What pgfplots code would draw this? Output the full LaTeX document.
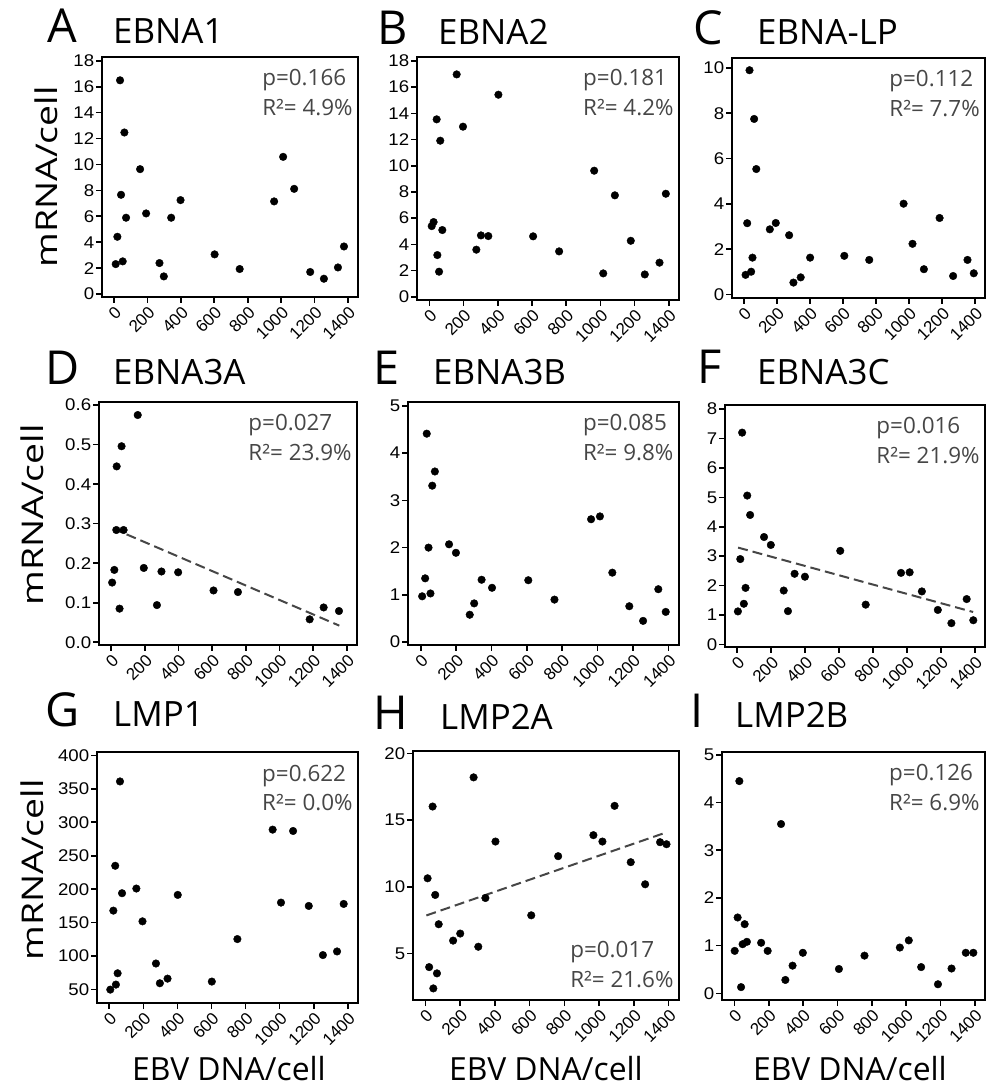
\documentclass[border=0pt]{standalone}
\usepackage{fontspec}
\setmainfont{Open Sans}
\newfontfamily\tickfont{Liberation Sans}
\usepackage{pgfplots}
\pgfplotsset{compat=1.18}
\definecolor{ptext}{RGB}{70,70,70}
\definecolor{trendc}{RGB}{70,70,70}
\pgfplotsset{
  panel/.style={
    scale only axis,
    anchor=south west,
    xmin=-72, xmax=1460,
    xtick={0,200,...,1400},
    tick align=outside,
    xtick pos=bottom, ytick pos=left,
    major tick length=6bp,
    every tick/.style={black, line width=1.6bp},
    axis line style={black, line width=2.2bp},
    tick label style={font=\tickfont\fontsize{17}{17}\selectfont},
    /pgf/number format/assume math mode=true,
    /pgf/number format/1000 sep={},
    xticklabel style={rotate=45, anchor=north east, inner sep=1.5bp},
    yticklabel style={inner sep=1.5bp, xscale=1.1},
    clip=false,
  },
  dots/.style={only marks, mark=*, mark size=3.8bp, black, mark options={fill=black, draw=black}},
  trend/.style={no marks, trendc, line width=2bp, dash pattern=on 10bp off 5bp},
}
\tikzset{
  ptxt/.style={font=\fontsize{22.5}{30}\selectfont, text=ptext, align=left, inner sep=0pt},
  letter/.style={font=\fontsize{47}{47}\selectfont, anchor=base west, inner sep=0pt},
  ttl/.style={font=\fontsize{35}{35}\selectfont, anchor=base west, inner sep=0pt},
  ylab/.style={font=\fontsize{30}{30}\selectfont, rotate=90, xscale=1.25, inner sep=0pt},
  xlab/.style={font=\fontsize{32}{32}\selectfont, anchor=base, inner sep=0pt},
}
\begin{document}
\begin{tikzpicture}
\useasboundingbox (0bp,0bp) rectangle (987bp,1087bp);

% ---------- Row 1 ----------
\begin{axis}[panel, at={(102bp,790bp)}, width=256bp, height=240bp,
  ymin=-0.23, ymax=18.3, ytick={0,2,...,18}]
\addplot[dots] coordinates {
(10,2.31) (20,4.42) (36,16.5) (42,7.66) (52,2.52) (62,12.47) (72,5.89)
(156,9.64) (192,6.22) (272,2.39) (298,1.36) (342,5.89) (398,7.25)
(602,3.06) (752,1.93) (958,7.15) (1012,10.59) (1078,8.12) (1174,1.70)
(1256,1.18) (1340,2.05) (1376,3.67)};
\node[ptxt, anchor=north east] at (rel axis cs:0.98,0.95) {p=0.166\\R²= 4.9\%};
\end{axis}

\begin{axis}[panel, at={(417bp,787bp)}, width=262bp, height=243bp,
  ymin=-0.25, ymax=18.3, ytick={0,2,...,18}]
\addplot[dots] coordinates {
(14,5.39) (25,5.70) (43,13.54) (47,3.18) (57,1.91) (64,11.91) (76,5.09)
(160,16.97) (197,12.98) (275,3.59) (302,4.68) (345,4.63) (404,15.42)
(607,4.61) (759,3.46) (964,9.62) (1017,1.78) (1085,7.74) (1178,4.27)
(1260,1.70) (1346,2.6) (1383,7.86)};
\node[ptxt, anchor=north east] at (rel axis cs:0.98,0.95) {p=0.181\\R²= 4.2\%};
\end{axis}

\begin{axis}[panel, at={(732bp,789bp)}, width=253bp, height=240bp,
  ymin=-0.15, ymax=10.44, ytick={0,2,...,10}]
\addplot[dots] coordinates {
(10,0.87) (20,3.15) (34,9.9) (44,1.01) (52,1.63) (62,7.75) (75,5.54)
(157,2.88) (193,3.16) (274,2.62) (300,0.53) (344,0.76) (401,1.63)
(608,1.71) (759,1.53) (967,4.01) (1021,2.24) (1090,1.12) (1185,3.38)
(1267,0.82) (1354,1.53) (1392,0.94)};
\node[ptxt, anchor=north east] at (rel axis cs:0.98,0.95) {p=0.112\\R²= 7.7\%};
\end{axis}

% ---------- Row 2 ----------
\begin{axis}[panel, at={(99bp,442bp)}, width=258bp, height=243bp,
  ymin=-0.007, ymax=0.608, ytick={0,0.1,0.2,0.3,0.4,0.5,0.6},
  yticklabel style={/pgf/number format/fixed, /pgf/number format/fixed zerofill, /pgf/number format/precision=1}]
\addplot[trend] coordinates {(10,0.288) (1355,0.042)};
\addplot[dots] coordinates {
(6,0.151) (19,0.183) (33,0.445) (31,0.284) (50,0.085) (62,0.496) (74,0.284)
(158,0.575) (194,0.188) (272,0.094) (299,0.179) (398,0.177)
(608,0.131) (753,0.127) (1179,0.058) (1262,0.088) (1353,0.079)};
\node[ptxt, anchor=north east] at (rel axis cs:0.98,0.95) {p=0.027\\R²= 23.9\%};
\end{axis}

\begin{axis}[panel, at={(408bp,442bp)}, width=271bp, height=243bp,
  ymin=-0.06, ymax=5.08, ytick={0,1,...,5}]
\addplot[dots] coordinates {
(8,0.97) (25,1.35) (34,4.41) (44,2.00) (55,1.03) (65,3.31) (80,3.61)
(160,2.07) (199,1.89) (277,0.58) (302,0.82) (344,1.32) (403,1.15)
(608,1.31) (756,0.90) (963,2.60) (1013,2.66) (1083,1.47) (1179,0.76)
(1257,0.45) (1343,1.12) (1385,0.64)};
\node[ptxt, anchor=north east] at (rel axis cs:0.98,0.95) {p=0.085\\R²= 9.8\%};
\end{axis}

\begin{axis}[panel, at={(725bp,440bp)}, width=260bp, height=242bp,
  ymin=-0.09, ymax=8.14, ytick={0,1,...,8}]
\addplot[trend] coordinates {(5,3.29) (1390,1.10)};
\addplot[dots] coordinates {
(4,1.12) (18,2.9) (29,7.2) (39,1.38) (49,1.92) (59,5.06) (76,4.40)
(158,3.65) (198,3.38) (274,1.83) (299,1.13) (338,2.40) (399,2.30)
(607,3.18) (757,1.35) (965,2.43) (1016,2.45) (1088,1.80) (1182,1.17)
(1262,0.72) (1352,1.54) (1391,0.82)};
\node[ptxt, anchor=north east] at (rel axis cs:0.98,0.95) {p=0.016\\R²= 21.9\%};
\end{axis}

% ---------- Row 3 ----------
\begin{axis}[panel, at={(97bp,84bp)}, width=261bp, height=251bp,
  ymin=30, ymax=405, ytick={50,100,...,400}]
\addplot[dots] coordinates {
(6,50) (24,168) (35,235) (39,57.5) (49,74.4) (63,361) (75,194)
(159,201) (195,152) (274,89) (297,59.5) (342,66.4) (402,191.5)
(602,62) (752,125.5) (959,289) (1008,180) (1079,287) (1171,175)
(1254,101.6) (1337,107) (1376,178)};
\node[ptxt, anchor=north east] at (rel axis cs:0.98,0.95) {p=0.622\\R²= 0.0\%};
\end{axis}

\begin{axis}[panel, at={(413bp,87bp)}, width=266bp, height=249bp,
  ymin=1.5, ymax=20.2, ytick={5,10,15,20}]
\addplot[trend] coordinates {(5,7.85) (1390,14.1)};
\addplot[dots] coordinates {
(12,10.64) (21,3.97) (41,16.03) (45,2.37) (56,9.39) (66,3.50) (76,7.19)
(159,5.96) (200,6.49) (277,18.22) (304,5.50) (345,9.16) (403,13.40)
(609,7.86) (764,12.30) (967,13.88) (1019,13.40) (1089,16.08) (1182,11.85)
(1265,10.19) (1351,13.35) (1388,13.2)};
\node[ptxt, anchor=south east] at (rel axis cs:0.98,0.05) {p=0.017\\R²= 21.6\%};
\end{axis}

\begin{axis}[panel, at={(722bp,87bp)}, width=263bp, height=248bp,
  ymin=-0.14, ymax=5.06, ytick={0,1,...,5}]
\addplot[dots] coordinates {
(2,0.89) (19,1.59) (29,4.45) (39,0.13) (48,1.03) (60,1.45) (73,1.08)
(156,1.06) (194,0.89) (272,3.55) (297,0.28) (339,0.58) (399,0.85)
(609,0.51) (758,0.79) (964,0.96) (1016,1.11) (1088,0.55) (1186,0.19)
(1265,0.52) (1348,0.85) (1392,0.85)};
\node[ptxt, anchor=north east] at (rel axis cs:0.98,0.95) {p=0.126\\R²= 6.9\%};
\end{axis}

% ---------- Letters and titles ----------
\node[letter] at (47bp,1044bp) {A};  \node[ttl] at (113bp,1043bp) {EBNA1};
\node[letter] at (377bp,1042bp) {B}; \node[ttl] at (438bp,1042bp) {EBNA2};
\node[letter] at (693bp,1042bp) {C}; \node[ttl] at (757bp,1042bp) {EBNA-LP};
\node[letter] at (45bp,702bp) {D};   \node[ttl] at (113bp,702bp) {EBNA3A};
\node[letter] at (373bp,702bp) {E};  \node[ttl] at (433bp,702bp) {EBNA3B};
\node[letter] at (697bp,703bp) {F};  \node[ttl] at (757bp,702bp) {EBNA3C};
\node[letter] at (45bp,360bp) {G};   \node[ttl] at (113bp,360bp) {LMP1};
\node[letter] at (373bp,357bp) {H};  \node[ttl] at (440bp,357bp) {LMP2A};
\node[letter] at (690bp,359bp) {I};  \node[ttl] at (735bp,359bp) {LMP2B};

% ---------- Axis titles ----------
\node[ylab] at (46bp,910bp) {mRNA/cell};
\node[ylab] at (32bp,572bp) {mRNA/cell};
\node[ylab] at (32bp,217bp) {mRNA/cell};
\node[xlab] at (229bp,7bp) {EBV DNA/cell};
\node[xlab] at (546bp,7bp) {EBV DNA/cell};
\node[xlab] at (850bp,7bp) {EBV DNA/cell};
\end{tikzpicture}
\end{document}
